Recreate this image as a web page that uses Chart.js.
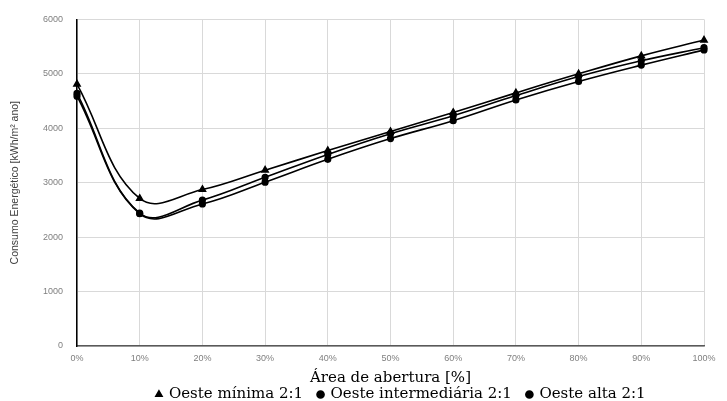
<!DOCTYPE html>
<html>
<head>
<meta charset="utf-8">
<script src="https://cdn.jsdelivr.net/npm/chart.js@4.4.1/dist/chart.umd.min.js"></script>
<style>
  html, body { margin: 0; padding: 0; background: #fff; }
  #wrap { width: 727px; height: 401px; position: relative; }
</style>
</head>
<body>
<div id="wrap"><canvas id="chart"></canvas></div>
<script>
// ---- data ----
const aberturas = ['0%', '10%', '20%', '30%', '40%', '50%', '60%', '70%', '80%', '90%', '100%'];
const oesteMinima        = [4810, 2710, 2875, 3230, 3590, 3940, 4290, 4650, 5000, 5330, 5620];
const oesteIntermediaria = [4640, 2440, 2680, 3100, 3520, 3900, 4230, 4600, 4950, 5240, 5480];
const oesteAlta          = [4590, 2430, 2610, 3010, 3430, 3810, 4140, 4520, 4860, 5160, 5440];
const yTicks = [0, 1000, 2000, 3000, 4000, 5000, 6000];

const GRID  = '#d9d9d9';
const TICK  = '#7f7f7f';
const SERIF = "'DejaVu Serif', 'Liberation Serif', serif";
const SANS  = "'Liberation Sans', 'DejaVu Sans', sans-serif";

function serie(label, data, style, radius) {
  return {
    label: label,
    data: data,
    borderColor: '#000',
    backgroundColor: '#000',
    borderWidth: 1.6,
    pointStyle: style,
    pointRadius: radius,
    pointBackgroundColor: '#000',
    pointBorderColor: '#000',
    tension: 0.4,
    fill: false
  };
}

// move the legend box to where the original figure has it
const legendShift = {
  id: 'legendShift',
  afterLayout(chart) {
    const dx = 49, dy = 11;
    chart.legend.left += dx;
    chart.legend.right += dx;
    chart.legend.top += dy;
    chart.legend.bottom += dy;
  }
};

new Chart(document.getElementById('chart'), {
  type: 'line',
  data: {
    labels: aberturas,
    datasets: [
      serie('Oeste mínima 2:1', oesteMinima, 'triangle', 3.5),
      serie('Oeste intermediária 2:1', oesteIntermediaria, 'circle', 2.8),
      serie('Oeste alta 2:1', oesteAlta, 'circle', 2.8)
    ]
  },
  options: {
    responsive: true,
    maintainAspectRatio: false,
    animation: false,
    layout: { padding: { top: 19, right: 23, left: 0, bottom: 0 } },
    plugins: {
      tooltip: { enabled: false },
      legend: {
        position: 'bottom',
        labels: {
          usePointStyle: true,
          boxWidth: 5,
          boxHeight: 5,
          padding: 15,
          color: '#000',
          font: { family: SERIF, size: 15 }
        }
      }
    },
    scales: {
      x: {
        grid: { color: GRID, drawTicks: false },
        border: { color: '#595959', width: 1.5 },
        ticks: { color: TICK, padding: 7, maxRotation: 0, font: { family: SANS, size: 9 } },
        title: {
          display: true,
          text: 'Área de abertura [%]',
          color: '#000',
          padding: { top: 0, bottom: -26 },
          font: { family: SERIF, size: 15 }
        },
        afterFit(scale) { scale.height = 15; }
      },
      y: {
        min: 0,
        max: 6000,
        grid: { color: GRID, drawTicks: false },
        border: { color: '#000', width: 1.5 },
        afterBuildTicks(scale) { scale.ticks = yTicks.map(v => ({ value: v })); },
        ticks: { color: TICK, padding: 14, font: { family: SANS, size: 9 }, callback: v => String(v) },
        title: {
          display: true,
          text: 'Consumo Energético [kWh/m² ano]',
          color: '#404040',
          padding: { top: 9, bottom: 0 },
          font: { family: SANS, size: 10.5 }
        },
        afterFit(scale) { scale.width = 77; }
      }
    }
  },
  plugins: [legendShift]
});
</script>
</body>
</html>
